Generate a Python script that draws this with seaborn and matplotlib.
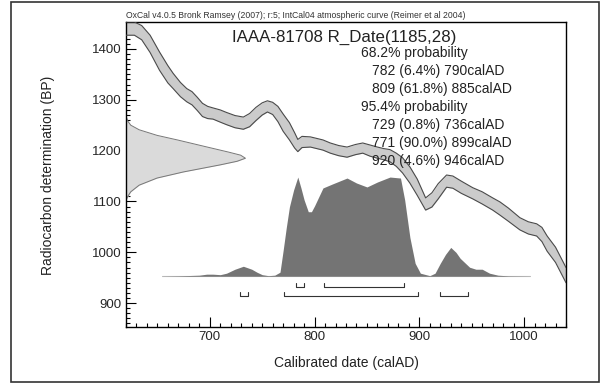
import numpy as np
import matplotlib
matplotlib.use("Agg")
import matplotlib.pyplot as plt
from matplotlib.ticker import MultipleLocator
import seaborn as sns
import pandas as pd

# calibration curve band (calAD, upper BP, lower BP)
cal_year = [620, 628, 635, 643, 652, 660, 665, 672, 678, 683, 688, 693, 698, 703, 710,
            716, 724, 732, 738, 744, 750, 755, 760, 765, 770, 776, 781, 784, 788, 796,
            802, 808, 815, 823, 831, 839, 846, 853, 860, 866, 872, 878, 884, 891, 898,
            906, 912, 918, 926, 932, 940, 951, 960, 970, 977, 985, 996, 1004, 1012, 1017,
            1022, 1030, 1040]
cal_upper = [1453, 1453, 1446, 1427, 1394, 1367, 1352, 1334, 1322, 1316, 1305, 1293, 1287, 1284, 1280,
             1275, 1269, 1266, 1273, 1285, 1294, 1298, 1295, 1287, 1272, 1255, 1235, 1222, 1228, 1227,
             1224, 1221, 1215, 1210, 1207, 1212, 1215, 1211, 1207, 1204, 1202, 1195, 1186, 1168, 1144,
             1107, 1117, 1135, 1152, 1150, 1140, 1127, 1119, 1107, 1099, 1087, 1068, 1060, 1056, 1049,
             1032, 1010, 970]
cal_lower = [1427, 1427, 1418, 1393, 1358, 1333, 1322, 1306, 1296, 1290, 1279, 1267, 1263, 1262, 1256,
             1251, 1245, 1242, 1247, 1259, 1270, 1276, 1271, 1257, 1238, 1221, 1205, 1198, 1206, 1207,
             1204, 1201, 1195, 1190, 1187, 1192, 1195, 1189, 1185, 1182, 1178, 1169, 1156, 1136, 1112,
             1083, 1089, 1105, 1128, 1126, 1116, 1105, 1095, 1083, 1073, 1061, 1044, 1036, 1032, 1021,
             1002, 980, 940]

# radiocarbon measurement R_Date(1185,28): BP and relative density
c14_bp = [1268, 1258, 1250, 1241, 1230, 1221, 1207, 1197, 1191, 1185, 1179, 1172, 1158, 1146,
          1132, 1119, 1110, 1102]
c14_dens = [0.0, 0.015, 0.04, 0.11, 0.26, 0.43, 0.68, 0.86, 0.96, 1.0, 0.93, 0.79, 0.48, 0.26,
            0.11, 0.04, 0.015, 0.0]

# calibrated probability (calAD, relative)
post_year = [654, 670, 690, 697, 703, 710, 716, 724, 732, 740, 745, 750, 756, 762, 767,
             770, 773, 776, 780, 784, 787, 790, 794, 797, 800, 808, 817, 831, 840, 850,
             860, 872, 882, 886, 891, 896, 901, 910, 915, 920, 925, 930, 935, 939, 948,
             954, 960, 967, 975, 985, 1006]
post_prob = [0.0, 0.003, 0.01, 0.02, 0.02, 0.015, 0.03, 0.07, 0.10, 0.07, 0.04, 0.015, 0.005, 0.01, 0.04,
             0.26, 0.49, 0.70, 0.87, 1.0, 0.89, 0.77, 0.65, 0.65, 0.71, 0.89, 0.93, 0.99, 0.94, 0.90,
             0.95, 1.0, 0.99, 0.77, 0.39, 0.13, 0.03, 0.005, 0.03, 0.13, 0.22, 0.29, 0.24, 0.18, 0.09,
             0.07, 0.07, 0.03, 0.01, 0.003, 0.0]

# ranges
r68 = [(782, 790), (809, 885)]
r95 = [(729, 736), (771, 899), (920, 946)]

prob_lines = ["68.2% probability",
              "782 (6.4%) 790calAD",
              "809 (61.8%) 885calAD",
              "95.4% probability",
              "729 (0.8%) 736calAD",
              "771 (90.0%) 899calAD",
              "920 (4.6%) 946calAD"]

sns.set_theme(style="white")
plt.rcParams['font.family'] = ['Liberation Sans', 'DejaVu Sans']

W, H = 603, 384
fig = plt.figure(figsize=(W / 100, H / 100), dpi=100)
ax = fig.add_axes([126 / W, 1 - 327 / H, (566 - 126) / W, (327 - 22) / H])

# calibration curve
cal = pd.DataFrame({"year": cal_year, "upper": cal_upper, "lower": cal_lower})
ax.fill_between(cal["year"], cal["lower"], cal["upper"], color="#cbcbcb", lw=0, zorder=2)
sns.lineplot(data=cal, x="year", y="upper", color="#4a4a4a", lw=0.8, ax=ax, zorder=3)
sns.lineplot(data=cal, x="year", y="lower", color="#4a4a4a", lw=0.8, ax=ax, zorder=3)

# measurement distribution on y axis
x0 = 620
c14_w = 114
cx = x0 + np.array(c14_dens) * c14_w
ax.fill_betweenx(c14_bp, x0, cx, color="#dadada", lw=0, zorder=1)
ax.plot(cx, c14_bp, color="#777777", lw=0.7, zorder=1)

# calibrated distribution
base = 953
scale = 195
py = base + np.array(post_prob) * scale
ax.fill_between(post_year, base, py, color="#747474", lw=0, zorder=2)
ax.plot([post_year[0], post_year[-1]], [base, base], color="#bbbbbb", lw=0.8, zorder=1)

# range brackets
def bracket(lo, hi, y, h=8):
    ax.plot([lo, lo, hi, hi], [y + h, y, y, y + h], color="#333333", lw=0.8, zorder=3)

for lo, hi in r68:
    bracket(lo, hi, 932)
for lo, hi in r95:
    bracket(lo, hi, 913)

ax.set_xlim(620, 1040)
ax.set_ylim(853, 1453)
ax.xaxis.set_major_locator(MultipleLocator(100))
ax.xaxis.set_minor_locator(MultipleLocator(10))
ax.yaxis.set_major_locator(MultipleLocator(100))
ax.yaxis.set_minor_locator(MultipleLocator(10))
ax.tick_params(which="both", direction="in", color="black", labelsize=9.5, width=0.8)
ax.tick_params(which="major", length=7, pad=3)
ax.tick_params(which="minor", length=3)
ax.tick_params(axis="x", which="both", bottom=True, top=False)
ax.tick_params(axis="y", which="both", left=True, right=False)
for s in ax.spines.values():
    s.set_color("black")
    s.set_linewidth(1.0)
ax.set_xlabel("")
ax.set_ylabel("")

def ftext(px, pyy, s, **kw):
    fig.text(px / W, 1 - pyy / H, s, **kw)

ftext(126, 15, "OxCal v4.0.5 Bronk Ramsey (2007); r:5; IntCal04 atmospheric curve (Reimer et al 2004)",
      fontsize=6.2, ha="left", va="center", color="#333333")
ftext(344, 37, "IAAA-81708 R_Date(1185,28)", fontsize=12.2, ha="center", va="center", color="#222222")
for i, line in enumerate(prob_lines):
    xx = 361 if "probability" in line else 372
    ftext(xx, 53 + 18 * i, line, fontsize=10, ha="left", va="center", color="#222222")

ftext(48, 175, "Radiocarbon determination (BP)", fontsize=10, rotation=90, ha="center", va="center",
      color="#222222")
ftext(346, 363, "Calibrated date (calAD)", fontsize=10, ha="center", va="center", color="#222222")

fig.patches.append(plt.Rectangle((11 / W, 2 / H), (599 - 11) / W, (382 - 2) / H,
                                 transform=fig.transFigure, fill=False, ec="#333333", lw=1.2))

fig.savefig("out.png", dpi=100, facecolor="white")
